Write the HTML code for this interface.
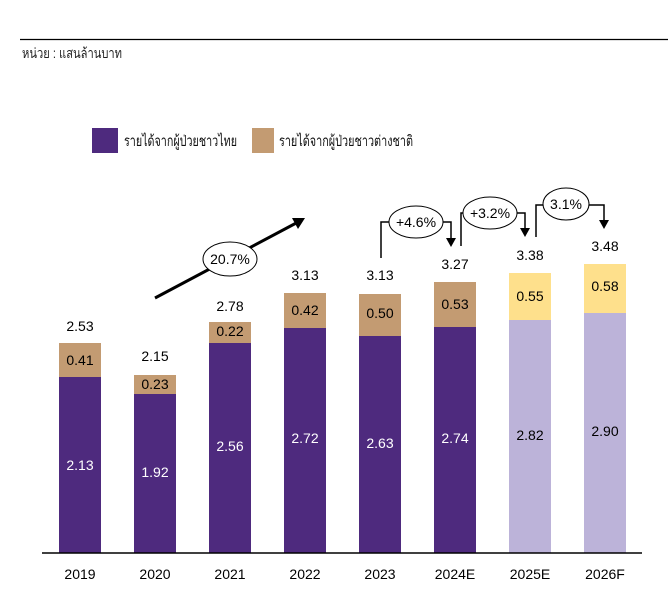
<!DOCTYPE html><html><head><meta charset="utf-8"><style>body{margin:0;background:#fff}svg{display:block}text{font-family:"Liberation Sans","Noto Sans CJK SC",sans-serif}</style></head><body>
<svg width="668" height="591" viewBox="0 0 668 591" xmlns="http://www.w3.org/2000/svg">
<line x1="20" y1="39.5" x2="668" y2="39.5" stroke="#000" stroke-width="1.2"/>
<text x="22" y="58" font-size="14" fill="#222" textLength="100" lengthAdjust="spacingAndGlyphs">หน่วย : แสนล้านบาท</text>
<rect x="92" y="128" width="26" height="25" fill="#4e2a7e"/>
<text x="124" y="146" font-size="15" fill="#111" textLength="113" lengthAdjust="spacingAndGlyphs">รายได้จากผู้ป่วยชาวไทย</text>
<rect x="252" y="128" width="22" height="25" fill="#c39b72"/>
<text x="279" y="146" font-size="15" fill="#111" textLength="134" lengthAdjust="spacingAndGlyphs">รายได้จากผู้ป่วยชาวต่างชาติ</text>
<g font-size="14" text-anchor="middle">
<rect x="59" y="343" width="42" height="34" fill="#c39b72"/><rect x="59" y="377" width="42" height="176" fill="#4e2a7e"/>
<text x="80" y="365">0.41</text><text x="80" y="470" fill="#fff">2.13</text><text x="80" y="331">2.53</text>
<rect x="134" y="375" width="42" height="19" fill="#c39b72"/><rect x="134" y="394" width="42" height="159" fill="#4e2a7e"/>
<text x="155" y="389">0.23</text><text x="155" y="477" fill="#fff">1.92</text><text x="155" y="361">2.15</text>
<rect x="209" y="322" width="42" height="21" fill="#c39b72"/><rect x="209" y="343" width="42" height="210" fill="#4e2a7e"/>
<text x="230" y="336">0.22</text><text x="230" y="451" fill="#fff">2.56</text><text x="230" y="311">2.78</text>
<rect x="284" y="293" width="42" height="35" fill="#c39b72"/><rect x="284" y="328" width="42" height="225" fill="#4e2a7e"/>
<text x="305" y="315">0.42</text><text x="305" y="443" fill="#fff">2.72</text><text x="305" y="280">3.13</text>
<rect x="359" y="294" width="42" height="42" fill="#c39b72"/><rect x="359" y="336" width="42" height="217" fill="#4e2a7e"/>
<text x="380" y="318">0.50</text><text x="380" y="448" fill="#fff">2.63</text><text x="380" y="280">3.13</text>
<rect x="434" y="282" width="42" height="45" fill="#c39b72"/><rect x="434" y="327" width="42" height="226" fill="#4e2a7e"/>
<text x="455" y="309">0.53</text><text x="455" y="443" fill="#fff">2.74</text><text x="455" y="269">3.27</text>
<rect x="509" y="273" width="42" height="47" fill="#fee08c"/><rect x="509" y="320" width="42" height="233" fill="#bcb3d9"/>
<text x="530" y="301">0.55</text><text x="530" y="440">2.82</text><text x="530" y="260">3.38</text>
<rect x="584" y="264" width="42" height="49" fill="#fee08c"/><rect x="584" y="313" width="42" height="240" fill="#bcb3d9"/>
<text x="605" y="291">0.58</text><text x="605" y="436">2.90</text><text x="605" y="251">3.48</text>
</g>
<line x1="42" y1="553" x2="642" y2="553" stroke="#000" stroke-width="1.5"/>
<g font-size="14" text-anchor="middle"><text x="80" y="579">2019</text><text x="155" y="579">2020</text><text x="230" y="579">2021</text><text x="305" y="579">2022</text><text x="380" y="579">2023</text><text x="455" y="579">2024E</text><text x="530" y="579">2025E</text><text x="605" y="579">2026F</text></g>
<line x1="155" y1="298" x2="300" y2="221" stroke="#000" stroke-width="3"/><path d="M305,218L292,218L298,229z" fill="#000"/>
<ellipse cx="230" cy="259" rx="27" ry="17" fill="#fff" stroke="#000"/><text x="230" y="264" font-size="14" text-anchor="middle">20.7%</text>
<g fill="none" stroke="#000" stroke-width="1.5">
<path d="M381,258V222H390M441,222H451V240"/><path d="M461,246V213H466M514,213H525V230"/><path d="M536,237V205H543M587,205H604V222"/></g>
<g fill="#000"><path d="M446,238h10l-5,9z"/><path d="M520,228h10l-5,9z"/><path d="M599,220h10l-5,9z"/></g>
<g fill="#fff" stroke="#000"><ellipse cx="416" cy="222" rx="27" ry="16"/><ellipse cx="490" cy="213" rx="27" ry="16"/><ellipse cx="566" cy="204" rx="23" ry="16"/></g>
<g font-size="14" text-anchor="middle"><text x="416" y="227">+4.6%</text><text x="490" y="218">+3.2%</text><text x="566" y="209">3.1%</text></g>
</svg></body></html>
